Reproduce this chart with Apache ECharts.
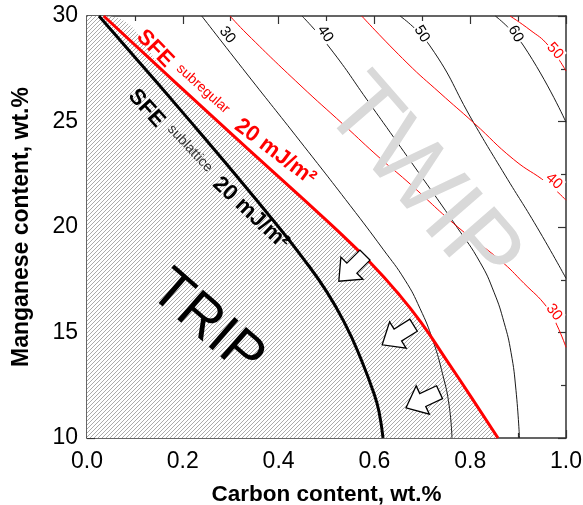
<!DOCTYPE html>
<html>
<head>
<meta charset="utf-8">
<title>Stacking fault energy map, Fe-Mn-C</title>
<script src="https://cdn.jsdelivr.net/npm/echarts@6/dist/echarts.min.js"></script>
<style>
  html, body { margin: 0; padding: 0; background: #fff; }
  #chart { width: 583px; height: 505px; }
</style>
</head>
<body>
<div id="chart"></div>
<script>
// ---- iso-SFE contours, [carbon wt.%, manganese wt.%] ----
// sublattice model (black)
const sublattice20 = [[0.025,30],[0.10,28.05],[0.20,25.42],[0.30,22.75],[0.40,20.0],[0.45,18.55],[0.50,16.95],[0.54,15.35],[0.57,13.85],[0.60,12.05],[0.61,11.2],[0.618,10]];
const sublattice30 = [[0.2395,30],[0.334,27.25],[0.4447,24.07],[0.549,21.03],[0.618,18.95],[0.664,17.48],[0.695,16.15],[0.722,14.63],[0.743,12.97],[0.756,11.55],[0.762,10]];
const sublattice40 = [[0.4489,30],[0.5073,28.48],[0.5908,25.83],[0.668,23.36],[0.7724,19.99],[0.8205,18.33],[0.8497,16.91],[0.8706,15.48],[0.8852,14.06],[0.8956,12.26],[0.9029,10]];
const sublattice50 = [[0.6534,30],[0.7161,28.58],[0.8073,24.94],[0.8727,22.46],[0.9395,19.99],[1.0,17.57]];
const sublattice60 = [[0.8524,30],[0.9117,28.58],[1.0,24.97]];
// subregular model (red)
const subregular20 = [[0.0349,30],[0.1837,26.87],[0.334,23.74],[0.4447,21.46],[0.5219,19.85],[0.5908,18.33],[0.6493,16.86],[0.6973,15.48],[0.7495,13.73],[0.8038,11.88],[0.858,10]];
const subregular30 = [[0.2985,30],[0.334,29.15],[0.4447,26.73],[0.5365,24.83],[0.6117,23.26],[0.668,22.17],[0.7745,19.99],[0.8622,18.43],[0.9123,17.33],[0.9603,16.20],[0.9812,15.34],[1.0,14.30]];
const subregular40 = [[0.5735,30],[0.668,27.78],[0.737,26.35],[0.8073,24.94],[0.8908,23.20],[0.9603,22.09],[1.0,21.27]];
const subregular50 = [[0.8831,30],[0.9248,29.34],[0.9624,28.62],[1.0,27.39]];

// axis ranges and ticks
const carbonRange = [0, 1];
const carbonStep = 0.2;
const manganeseRange = [10, 30];
const manganeseStep = 5;

// contour value labels: [carbon, manganese, text, angle deg]
const blackLabels = [[0.293,29.10,'30',52],[0.497,29.15,'40',55],[0.699,29.15,'50',58],[0.895,29.15,'60',60]];
const redLabels = [[0.977,28.34,'50',48],[0.975,22.17,'40',42],[0.975,15.96,'30',52]];
// arrows pointing towards the TRIP field: [carbon, manganese, direction deg]
const arrowMarks = [[0.553,18.05,225],[0.649,14.88,212],[0.701,11.80,205]];

const FONT = '"Liberation Sans", Arial, Helvetica, sans-serif';
const RED = '#ff0000';

// diagonal hatch used for the region left of the 20 mJ/m2 subregular line
function makeHatch() {
  const c = document.createElement('canvas');
  c.width = 8; c.height = 8;
  const g = c.getContext('2d');
  g.fillStyle = '#ffffff';
  g.fillRect(0, 0, 8, 8);
  g.strokeStyle = '#a2a2a2';
  g.lineWidth = 0.9;
  for (let k = -8; k <= 8; k += 4) {
    g.beginPath();
    g.moveTo(k, 8);
    g.lineTo(k + 8, 0);
    g.stroke();
  }
  return c;
}

const chart = echarts.init(document.getElementById('chart'), null, { renderer: 'canvas' });

const frame = '#333';
function axisCommon(extra) {
  return Object.assign({
    type: 'value',
    axisLine: { show: true, onZero: false, lineStyle: { color: frame, width: 1.5 } },
    axisTick: { show: true, inside: true, length: 8, lineStyle: { color: frame, width: 1.2 } },
    minorTick: { show: true, splitNumber: 2, length: 5, lineStyle: { color: frame, width: 1.2 } },
    splitLine: { show: false },
    minorSplitLine: { show: false }
  }, extra);
}

function contour(data, color, width, z) {
  return {
    type: 'line', data: data, showSymbol: false, symbol: 'none', smooth: 0.5,
    clip: true, z: z, silent: true,
    lineStyle: { color: color, width: width }
  };
}

const hatchFill = [[carbonRange[0], manganeseRange[1]]].concat(subregular20);

chart.setOption({
  animation: false,
  backgroundColor: '#fff',
  grid: { left: 87, top: 16, right: 17, bottom: 67, containLabel: false, outerBoundsMode: 'none' },
  xAxis: [
    axisCommon({
      min: carbonRange[0], max: carbonRange[1], interval: carbonStep, position: 'bottom',
      axisLabel: { formatter: v => v.toFixed(1), fontSize: 23, color: '#000', margin: 12, fontFamily: FONT },
      name: 'Carbon content, wt.%', nameLocation: 'middle', nameGap: 45,
      nameTextStyle: { fontSize: 22.5, fontWeight: 'bold', color: '#000', fontFamily: FONT }
    }),
    axisCommon({
      min: carbonRange[0], max: carbonRange[1], interval: carbonStep, position: 'top',
      axisLabel: { show: false }
    })
  ],
  yAxis: [
    axisCommon({
      min: manganeseRange[0], max: manganeseRange[1], interval: manganeseStep, position: 'left',
      axisLabel: { fontSize: 23, color: '#000', margin: 9, fontFamily: FONT },
      name: 'Manganese content, wt.%', nameLocation: 'middle', nameGap: 54,
      nameTextStyle: { fontSize: 23, fontWeight: 'bold', color: '#000', fontFamily: FONT }
    }),
    axisCommon({
      min: manganeseRange[0], max: manganeseRange[1], interval: manganeseStep, position: 'right',
      axisLabel: { show: false }
    })
  ],
  series: [
    {
      type: 'line', data: hatchFill, showSymbol: false, symbol: 'none', smooth: 0.5,
      clip: true, z: 1, silent: true,
      lineStyle: { width: 0, opacity: 0 },
      areaStyle: { color: { image: makeHatch(), repeat: 'repeat' }, opacity: 1, origin: 'start' }
    },
    contour(sublattice30, '#1a1a1a', 1, 3),
    contour(sublattice40, '#1a1a1a', 1, 3),
    contour(sublattice50, '#1a1a1a', 1, 3),
    contour(sublattice60, '#1a1a1a', 1, 3),
    contour(subregular30, RED, 1, 3),
    contour(subregular40, RED, 1, 3),
    contour(subregular50, RED, 1, 3),
    contour(sublattice20, '#000', 3, 4),
    contour(subregular20, RED, 3, 4),
    {
      type: 'scatter', z: 6, silent: true,
      symbol: 'path://M0,6 L12,6 L12,0 L24,11 L12,22 L12,16 L0,16 Z',
      symbolKeepAspect: true,
      symbolSize: [37, 34],
      itemStyle: { color: '#fff', borderColor: '#000', borderWidth: 1.3, opacity: 1 },
      data: arrowMarks.map(a => ({ value: [a[0], a[1]], symbolRotate: a[2] }))
    }
  ]
});

// ---- text annotations, placed in data coordinates ----
function px(x, y) { return chart.convertToPixel({ gridIndex: 0 }, [x, y]); }
function rad(d) { return d * Math.PI / 180; }
function txt(x, y, angle, text, fill, font, bg) {
  const p = px(x, y);
  const style = {
    text: text, fill: fill, font: font,
    align: 'center', verticalAlign: 'middle',
    textAlign: 'center', textVerticalAlign: 'middle'
  };
  if (bg) { style.backgroundColor = bg; style.padding = [0, 1]; }
  return { type: 'text', x: p[0], y: p[1], rotation: -rad(angle), z: 20, silent: true, style: style };
}

const graphics = [];
blackLabels.forEach(l => graphics.push(txt(l[0], l[1], l[3], l[2], '#000', '15px ' + FONT, '#fff')));
redLabels.forEach(l => graphics.push(txt(l[0], l[1], l[3], l[2], RED, '15px ' + FONT, '#fff')));

graphics.push(txt(0.142, 28.45, 46, 'SFE', RED, 'bold 22px ' + FONT));
graphics.push(txt(0.242, 26.55, 42, 'subregular', RED, '14px ' + FONT));
graphics.push(txt(0.393, 23.55, 37, '20 mJ/m\u00b2', RED, 'bold 22px ' + FONT));

graphics.push(txt(0.124, 25.62, 48, 'SFE', '#000', 'bold 22px ' + FONT));
graphics.push(txt(0.215, 23.72, 47, 'sublattice', '#333', '14px ' + FONT));
graphics.push(txt(0.342, 20.65, 43, '20 mJ/m\u00b2', '#000', 'bold 22px ' + FONT));

graphics.push(txt(0.25, 15.40, 41, 'TRIP', '#000', '57px ' + FONT));
graphics.push(txt(0.697, 22.05, 49, 'TWIP', '#d9d9d9', '98px ' + FONT));

chart.setOption({ graphic: graphics });
</script>
</body>
</html>
